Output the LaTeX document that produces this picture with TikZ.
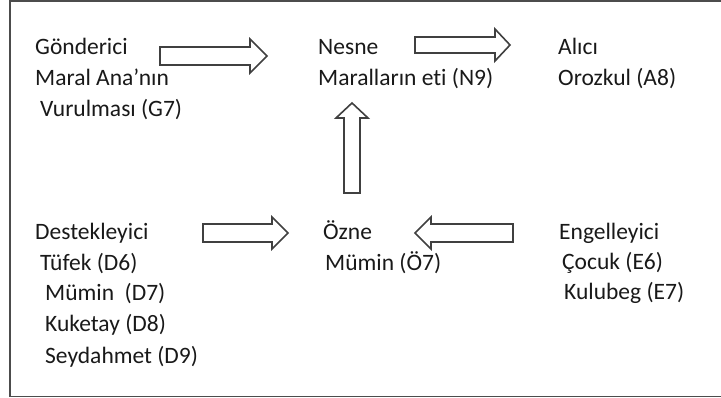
\documentclass[tikz,border=0pt]{standalone}
\usepackage{fontspec}
\setmainfont{Carlito}[Ligatures={NoCommon}]
\begin{document}
\begin{tikzpicture}[x=1pt,y=-1pt,
  lbl/.style={anchor=base west,inner sep=0pt,font=\fontsize{23.5}{28}\selectfont,text=black!90},
  blockarrow/.style={draw=black!75,line width=1.6pt,fill=white,line join=miter}]
\useasboundingbox (0,0) rectangle (721,398);
\begin{scope}
\clip (0,0) rectangle (721,398);
\draw[black!70,line width=1.6pt] (10,1) rectangle (740,396.5);
\end{scope}
% texts
\node[lbl] (g1) at (35,55) {Gönderici};
\node[lbl] (g2) at (35,86) {Maral Ana’nın};
\node[lbl] (g3) at (40,117) {Vurulması (G7)};
\node[lbl] (n1) at (318,55) {Nesne};
\node[lbl] (n2) at (318,86) {Maralların eti (N9)};
\node[lbl] (a1) at (558,55) {Alıcı};
\node[lbl] (a2) at (558,86) {Orozkul (A8)};
\node[lbl] (d1) at (35,240) {Destekleyici};
\node[lbl] (d2) at (40,271) {Tüfek (D6)};
\node[lbl] (d3) at (45,301) {Mümin~ (D7)};
\node[lbl] (d4) at (45,332) {Kuketay (D8)};
\node[lbl] (d5) at (45,363) {Seydahmet (D9)};
\node[lbl] (o1) at (323,240) {Özne};
\node[lbl] (o2) at (325,271) {Mümin (Ö7)};
\node[lbl] (e1) at (559,240) {Engelleyici};
\node[lbl] (e2) at (562,270) {Çocuk (E6)};
\node[lbl] (e3) at (564,300) {Kulubeg (E7)};
% block arrows
\draw[blockarrow] (160,47) -- (250,47) -- (250,39) -- (267,56) -- (250,73) -- (250,65) -- (160,65) -- cycle;
\draw[blockarrow] (415,37) -- (495,37) -- (495,29) -- (510,45) -- (495,61) -- (495,53) -- (415,53) -- cycle;
\draw[blockarrow] (344,193) -- (344,118) -- (336,118) -- (352,103) -- (368,118) -- (360,118) -- (360,193) -- cycle;
\draw[blockarrow] (203,224) -- (272,224) -- (272,217) -- (288,233) -- (272,249) -- (272,242) -- (203,242) -- cycle;
\draw[blockarrow] (513,224) -- (431,224) -- (431,217) -- (415,233) -- (431,249) -- (431,242) -- (513,242) -- cycle;
\end{tikzpicture}
\end{document}
